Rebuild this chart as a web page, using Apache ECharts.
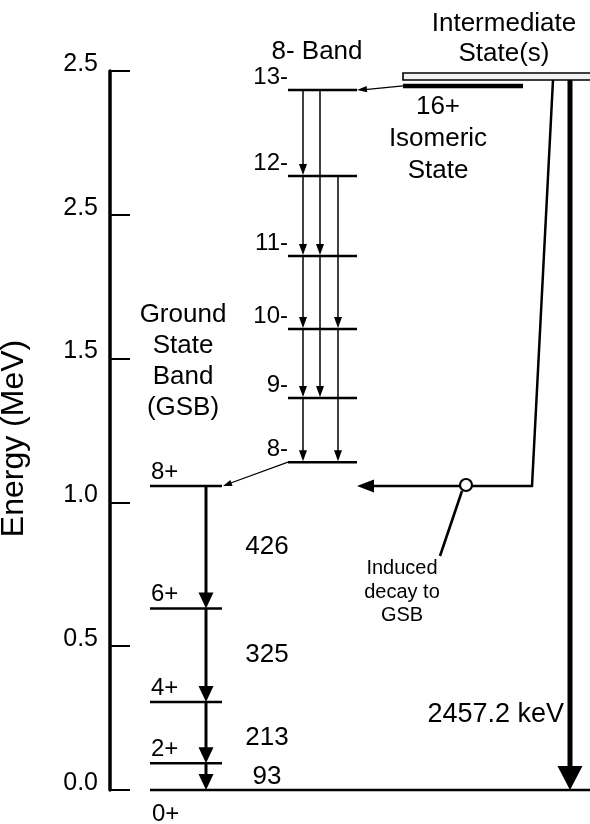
<!DOCTYPE html>
<html><head><meta charset="utf-8">
<script src="https://cdn.jsdelivr.net/npm/echarts@6/dist/echarts.min.js"></script>
<style>html,body{margin:0;padding:0;background:#fff}#c{width:590px;height:824px}</style>
</head><body><div id="c"></div>
<script>
// ---- data ----
const tickLabels = ['0.0', '0.5', '1.0', '1.5', '2.5', '2.5'];
const gsbSpins = ['0+', '2+', '4+', '6+', '8+'];
const gsbEnergy = [0, 0.093, 0.306, 0.631, 1.057];           // MeV
const gsbGammas = ['93', '213', '325', '426'];                // keV
const bandSpins = ['8-', '9-', '10-', '11-', '12-', '13-'];
const bandEnergy = [1.140, 1.363, 1.603, 1.857, 2.135, 2.434]; // MeV
const bandTransitions = [[13, 12], [12, 11], [11, 10], [10, 9], [9, 8], [13, 11], [11, 9], [12, 10], [10, 8]];
const isomerEnergy = 2.448;
const intermediateEnergy = 2.481;
const directDecayLabel = '2457.2 keV';

// ---- layout ----
const FONT = '"Liberation Sans", Arial, Helvetica, sans-serif';
const L = {
  xMin: 110, xMax: 590, gsbL: 150, gsbR: 222, gsbArrow: 206,
  bandL: 288, bandR: 357, lanes: [303, 320, 338],
  isoL: 403, isoR: 523, interL: 403, mainArrow: 570,
  feedTop: 553, feedBottom: 532, circleX: 466
};

function head(tip, from, len, half) {
  const dx = tip[0] - from[0], dy = tip[1] - from[1];
  const d = Math.hypot(dx, dy), ux = dx / d, uy = dy / d;
  const bx = tip[0] - ux * len, by = tip[1] - uy * len;
  return { type: 'polygon', shape: { points: [tip, [bx - uy * half, by + ux * half], [bx + uy * half, by - ux * half]] }, style: { fill: '#000' } };
}
function seg(a, b, w) {
  return { type: 'line', shape: { x1: a[0], y1: a[1], x2: b[0], y2: b[1] }, style: { stroke: '#000', lineWidth: w } };
}
function txt(t, x, y, size, align, va, lh) {
  const s = { text: t, x: x, y: y, font: size + 'px ' + FONT, fill: '#000', align: align, verticalAlign: va };
  if (lh) s.lineHeight = lh;
  return { type: 'text', style: s };
}

const chart = echarts.init(document.getElementById('c'), null, { renderer: 'canvas' });
chart.setOption({
  animation: false,
  backgroundColor: '#fff',
  grid: { left: 110, right: 0, top: 71, bottom: 34, outerBoundsMode: 'none' },
  xAxis: { type: 'value', min: L.xMin, max: L.xMax, show: false },
  yAxis: {
    type: 'value', min: 0, max: 2.5, interval: 0.5,
    name: 'Energy (MeV)', nameLocation: 'middle', nameGap: 80, nameRotate: 90,
    nameTextStyle: { fontFamily: FONT, fontSize: 32, color: '#000', padding: [0, 16, 0, 0] },
    axisLine: { show: true, lineStyle: { color: '#000', width: 3.5 } },
    axisTick: { show: true, inside: true, length: 20, lineStyle: { color: '#000', width: 2 } },
    axisLabel: {
      margin: 12, fontFamily: FONT, fontSize: 25, color: '#000',
      verticalAlign: 'bottom', lineHeight: 14,
      formatter: v => tickLabels[Math.round(v / 0.5)]
    },
    splitLine: { show: false }
  },
  graphic: [
    txt('8- Band', 317, 52, 26, 'center', 'middle'),
    txt('Intermediate\nState(s)', 504, 39, 26, 'center', 'middle', 30),
    txt('16+\nIsomeric\nState', 438, 139, 26, 'center', 'middle', 32),
    txt('Ground\nState\nBand\n(GSB)', 183, 361, 26, 'center', 'middle', 31),
    txt('Induced\ndecay to\nGSB', 402, 592, 20, 'center', 'middle', 23.5),
    txt(directDecayLabel, 564, 715, 27, 'right', 'middle')
  ],
  series: [
    { // ground-state band levels
      type: 'custom', coordinateSystem: 'cartesian2d', clip: false,
      data: gsbEnergy.map((e, i) => [L.gsbL, e, i]),
      renderItem(params, api) {
        const e = api.value(1), i = api.value(2);
        const a = api.coord([L.gsbL, e]), b = api.coord([i === 0 ? L.xMax : L.gsbR, e]);
        return { type: 'group', children: [
          seg(a, b, 2.5),
          i === 0 ? txt(gsbSpins[i], a[0] + 2, a[1] + 12, 24, 'left', 'top')
                  : txt(gsbSpins[i], a[0] + 1, a[1] - 2, 24, 'left', 'bottom')
        ] };
      }
    },
    { // ground-state band transitions
      type: 'custom', coordinateSystem: 'cartesian2d', clip: false,
      data: gsbGammas.map((g, i) => [L.gsbArrow, gsbEnergy[i + 1], gsbEnergy[i], i]),
      renderItem(params, api) {
        const x = api.value(0), e1 = api.value(1), e0 = api.value(2), i = api.value(3);
        const a = api.coord([x, e1]), b = api.coord([x, e0]);
        const m = api.coord([x, (e1 + e0) / 2]);
        return { type: 'group', children: [
          seg(a, [b[0], b[1] - 8], 3),
          head(b, a, 16, 7.5),
          txt(gsbGammas[i], x + 61, m[1] + (i === 1 ? 5 : 0), 26, 'center', 'middle')
        ] };
      }
    },
    { // 8- band levels
      type: 'custom', coordinateSystem: 'cartesian2d', clip: false,
      data: bandEnergy.map((e, i) => [L.bandL, e, i]),
      renderItem(params, api) {
        const e = api.value(1), i = api.value(2);
        const a = api.coord([L.bandL, e]), b = api.coord([L.bandR, e]);
        return { type: 'group', children: [
          seg(a, b, 2.5),
          txt(bandSpins[i], a[0], a[1] - 1, 24, 'right', 'bottom')
        ] };
      }
    },
    { // 8- band transitions
      type: 'custom', coordinateSystem: 'cartesian2d', clip: false,
      data: bandTransitions.map(t => [t[0], t[1]]),
      renderItem(params, api) {
        const from = api.value(0), to = api.value(1);
        const lane = from - to === 1 ? 0 : (from % 2 === 1 ? 1 : 2);
        const x = L.lanes[lane];
        const a = api.coord([x, bandEnergy[from - 8]]), b = api.coord([x, bandEnergy[to - 8]]);
        return { type: 'group', children: [seg(a, [b[0], b[1] - 5], 1.5), head([b[0], b[1] - 1], a, 11, 4)] };
      }
    },
    { // intermediate state, isomer and decay paths
      type: 'custom', coordinateSystem: 'cartesian2d', clip: false,
      data: [[intermediateEnergy, isomerEnergy, gsbEnergy[4], bandEnergy[5], bandEnergy[0]]],
      renderItem(params, api) {
        const eInt = api.value(0), eIso = api.value(1), e8p = api.value(2), e13 = api.value(3), e8m = api.value(4);
        const yInt = api.coord([L.interL, eInt])[1];
        const yBot = yInt + 3.5;
        const y8p = api.coord([L.xMin, e8p])[1];
        const y0 = api.coord([L.xMin, 0])[1];
        const iso = api.coord([L.isoL, eIso]);
        const isoR = api.coord([L.isoR, eIso]);
        const t13 = api.coord([L.bandR, e13]);
        const m8 = api.coord([L.bandL, e8m]);
        const p8 = api.coord([L.gsbR, e8p]);
        const ch = [];
        ch.push({ type: 'rect', shape: { x: L.interL, y: yInt - 3.5, width: 600 - L.interL, height: 7 }, style: { fill: '#f2f2f2', stroke: '#000', lineWidth: 1.6 } });
        ch.push(seg(iso, isoR, 4.5));
        ch.push(seg(iso, [t13[0] + 8, t13[1] - 0.3], 1.2));
        ch.push(head(t13, iso, 10, 3.2));
        ch.push(seg(m8, [p8[0] + 6, p8[1] - 2], 1.2));
        ch.push(head([p8[0] + 1, p8[1]], m8, 9, 3.2));
        const tip = [L.bandR, y8p];
        ch.push({ type: 'polyline', shape: { points: [[L.feedTop, yBot], [L.feedBottom, y8p], [tip[0] + 12, y8p]] }, style: { stroke: '#000', lineWidth: 2.5, fill: null } });
        ch.push(head(tip, [L.feedBottom, y8p], 17, 6.5));
        ch.push({ type: 'circle', shape: { cx: L.circleX, cy: y8p - 1, r: 6 }, style: { fill: '#fff', stroke: '#000', lineWidth: 2.2 } });
        ch.push(seg([L.circleX - 4, y8p + 5], [L.circleX - 26, y8p + 70], 2.6));
        ch.push(seg([L.mainArrow, yBot], [L.mainArrow, y0 - 20], 5));
        ch.push(head([L.mainArrow, y0], [L.mainArrow, yBot], 24, 12.5));
        return { type: 'group', children: ch };
      }
    }
  ]
});
</script></body></html>
